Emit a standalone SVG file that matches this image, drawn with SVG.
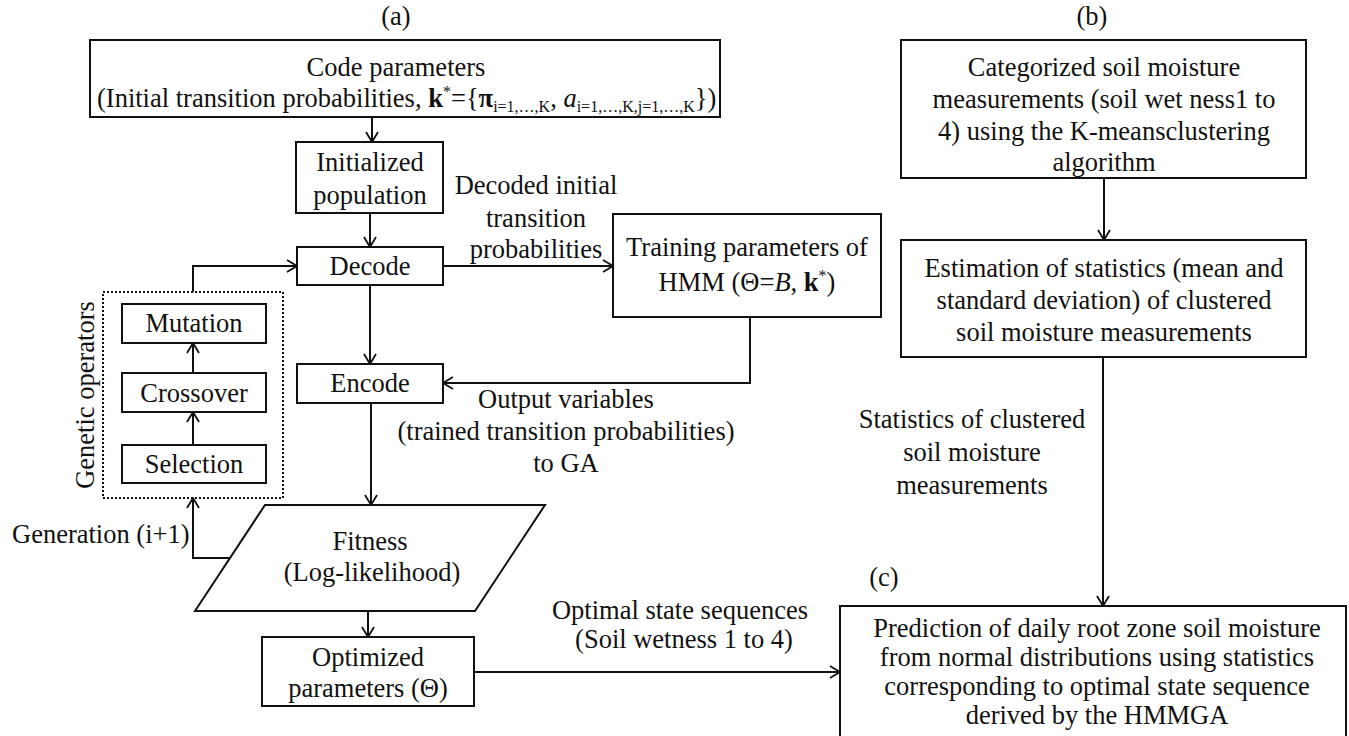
<svg xmlns="http://www.w3.org/2000/svg" width="1349" height="736" viewBox="0 0 1349 736">
  <style>
    .box { fill: #fff; stroke: #111; stroke-width: 2; }
    .dot { fill: none; stroke: #111; stroke-width: 2; stroke-dasharray: 2 2; }
    .ln { fill: none; stroke: #111; stroke-width: 2; marker-end: url(#arr); }
    text { font-family: 'Liberation Serif', 'DejaVu Serif', serif; font-size: 26.5px; fill: #111; }
    .c { text-anchor: middle; }
    .sub { font-size: 16px; }
  </style>
  <defs>
    <marker id="arr" viewBox="0 0 12 14" refX="11" refY="7" markerWidth="12" markerHeight="14" markerUnits="userSpaceOnUse" orient="auto">
      <path d="M1,1 L11,7 L1,13" fill="none" stroke="#111" stroke-width="1.8"/>
    </marker>
  </defs>
  <rect width="1349" height="736" fill="#fff"/>

  <!-- panel labels -->
  <text class="c" x="396" y="25">(a)</text>
  <text class="c" x="1092" y="25">(b)</text>
  <text class="c" x="884" y="586">(c)</text>

  <!-- connectors -->
  <g id="connectors">
    <path class="ln" d="M372,117 V142"/>
    <path class="ln" d="M370,213 V247"/>
    <path class="ln" d="M370,285 V364"/>
    <path class="ln" d="M443,266 H613"/>
    <path class="ln" d="M750,317 V383 H443"/>
    <path class="ln" d="M371,403 V505"/>
    <path class="ln" d="M368,611 V637"/>
    <path class="ln" d="M474,672 H840"/>
    <path class="ln" d="M231,558 H193 V498"/>
    <path class="ln" d="M193,292 V266 H297"/>
    <path class="ln" d="M193,445 V412"/>
    <path class="ln" d="M193,373 V343"/>
    <path class="ln" d="M1104,178 V240"/>
    <path class="ln" d="M1103,357 V606"/>
  </g>

  <!-- edge labels -->
  <g id="edge-labels">
    <text class="c" x="536" y="194">Decoded initial</text>
    <text class="c" x="536" y="227">transition</text>
    <text class="c" x="536" y="258">probabilities</text>
    <text class="c" x="566" y="408">Output variables</text>
    <text class="c" x="566" y="440">(trained transition probabilities)</text>
    <text class="c" x="566" y="472">to GA</text>
    <text x="12" y="543">Generation (i+1)</text>
    <text class="c" x="680" y="619">Optimal state sequences</text>
    <text class="c" x="684" y="648">(Soil wetness  1 to 4)</text>
    <text class="c" x="972" y="428">Statistics of clustered</text>
    <text class="c" x="972" y="461">soil moisture</text>
    <text class="c" x="972" y="494">measurements</text>
  </g>

  <g id="code-parameters">
    <rect class="box" x="90" y="40" width="630" height="77"/>
    <text class="c" x="396" y="76">Code parameters</text>
    <text x="97" y="107">(Initial transition probabilities, <tspan font-weight="bold">k</tspan><tspan class="sub" dy="-10">*</tspan><tspan dy="10">={</tspan><tspan font-weight="bold">π</tspan><tspan class="sub" dy="5">i=1,…,K</tspan><tspan dy="-5">, </tspan><tspan font-style="italic">a</tspan><tspan class="sub" dy="5">i=1,…,K,j=1,…,K</tspan><tspan dy="-5">})</tspan></text>
  </g>

  <g id="initialized-population">
    <rect class="box" x="296" y="142" width="147" height="71"/>
    <text class="c" x="370" y="171">Initialized</text>
    <text class="c" x="370" y="204">population</text>
  </g>

  <g id="decode">
    <rect class="box" x="297" y="247" width="146" height="38"/>
    <text class="c" x="370" y="275">Decode</text>
  </g>

  <g id="encode">
    <rect class="box" x="297" y="364" width="146" height="39"/>
    <text class="c" x="370" y="392">Encode</text>
  </g>

  <g id="training">
    <rect class="box" x="613" y="214" width="268" height="103"/>
    <text class="c" x="747" y="256">Training parameters of</text>
    <text class="c" x="747" y="291">HMM (Θ=<tspan font-style="italic">B</tspan>, <tspan font-weight="bold">k</tspan><tspan class="sub" dy="-10">*</tspan><tspan dy="10">)</tspan></text>
  </g>

  <g id="genetic-operators">
    <rect class="dot" x="103" y="292" width="180" height="206"/>
    <text class="c" transform="translate(94,395) rotate(-90)">Genetic operators</text>
  </g>
  <g id="mutation">
    <rect class="box" x="122" y="304" width="144" height="39"/>
    <text class="c" x="194" y="332">Mutation</text>
  </g>
  <g id="crossover">
    <rect class="box" x="122" y="373" width="144" height="39"/>
    <text class="c" x="194" y="402">Crossover</text>
  </g>
  <g id="selection">
    <rect class="box" x="122" y="445" width="144" height="38"/>
    <text class="c" x="194" y="473">Selection</text>
  </g>

  <g id="fitness">
    <polygon class="box" points="265,505 545,505 475,611 195,611"/>
    <text class="c" x="370" y="550">Fitness</text>
    <text class="c" x="372" y="581">(Log-likelihood)</text>
  </g>

  <g id="optimized">
    <rect class="box" x="262" y="637" width="212" height="69"/>
    <text class="c" x="368" y="666">Optimized</text>
    <text class="c" x="368" y="697">parameters (Θ)</text>
  </g>

  <g id="categorized">
    <rect class="box" x="901" y="40" width="405" height="138"/>
    <text class="c" x="1104" y="76">Categorized soil moisture</text>
    <text class="c" x="1104" y="108">measurements  (soil wet ness1  to</text>
    <text class="c" x="1104" y="140">4) using the K-meansclustering</text>
    <text class="c" x="1104" y="171">algorithm</text>
  </g>

  <g id="estimation">
    <rect class="box" x="901" y="240" width="405" height="117"/>
    <text class="c" x="1104" y="277">Estimation of statistics (mean and</text>
    <text class="c" x="1104" y="309">standard deviation) of clustered</text>
    <text class="c" x="1104" y="341">soil moisture measurements</text>
  </g>

  <g id="prediction">
    <rect class="box" x="840" y="606" width="506" height="140"/>
    <text class="c" x="1097" y="637">Prediction of daily root zone soil moisture</text>
    <text class="c" x="1097" y="666">from normal distributions  using statistics</text>
    <text class="c" x="1097" y="695">corresponding to optimal state sequence</text>
    <text class="c" x="1097" y="724">derived by the HMMGA</text>
  </g>
</svg>
